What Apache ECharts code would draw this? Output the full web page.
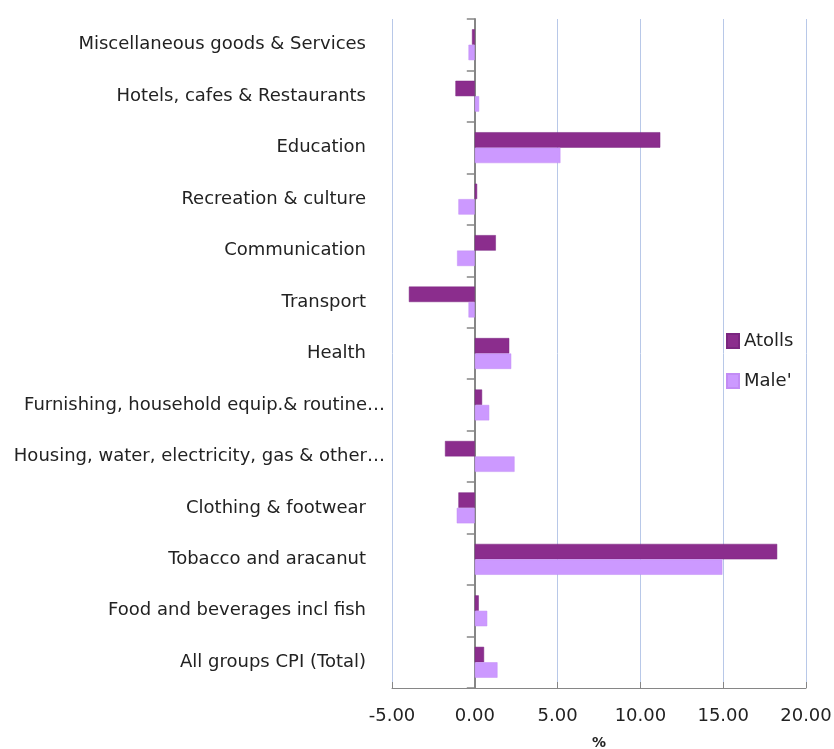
<!DOCTYPE html>
<html><head><meta charset="utf-8">
<script src="https://cdn.jsdelivr.net/npm/echarts@6/dist/echarts.min.js"></script>
<style>html,body{margin:0;padding:0;background:#fff}#c{width:834px;height:749px}</style>
</head><body><div id="c"></div>
<script>
const categories = [
  "Miscellaneous goods & Services",
  "Hotels, cafes & Restaurants",
  "Education",
  "Recreation & culture",
  "Communication",
  "Transport",
  "Health",
  "Furnishing, household equip.& routine…",
  "Housing, water, electricity, gas & other…",
  "Clothing & footwear",
  "Tobacco and aracanut",
  "Food and beverages incl fish",
  "All groups CPI (Total)"
];
const atolls = [-0.17, -1.17, 11.2, 0.14, 1.27, -3.98, 2.08, 0.44, -1.8, -0.99, 18.26, 0.24, 0.56];
const male = [-0.38, 0.26, 5.17, -0.99, -1.07, -0.38, 2.2, 0.87, 2.4, -1.09, 14.95, 0.75, 1.37];
const xTicks = [-5, 0, 5, 10, 15, 20];

const chart = echarts.init(document.getElementById('c'));
const font = "'DejaVu Sans', sans-serif";
const catData = categories.map(c => c.endsWith('…') ? c : {value: c, textStyle: {padding: [0, 19, 0, 0]}});
chart.setOption({
  animation: false,
  textStyle: {fontFamily: font},
  grid: {left: 392, right: 28, top: 19, bottom: 61, containLabel: false, outerBoundsMode: 'none'},
  legend: {
    orient: 'vertical', left: 721, top: 327, itemWidth: 12, itemHeight: 14, itemGap: 22,
    icon: 'rect',
    textStyle: {fontFamily: font, fontSize: 18, color: '#222'},
    data: ['Atolls', "Male'"]
  },
  xAxis: {
    type: 'value', min: xTicks[0], max: xTicks[xTicks.length - 1], interval: 5,
    name: '%', nameLocation: 'middle', nameGap: 48,
    nameTextStyle: {fontFamily: font, fontSize: 14, fontWeight: 'bold', color: '#222'},
    axisLine: {show: true, onZero: false, lineStyle: {color: '#868686'}},
    axisTick: {show: true, inside: true, length: 6, lineStyle: {color: '#868686'}},
    axisLabel: {formatter: v => v.toFixed(2), fontSize: 18, color: '#222', margin: 19},
    splitLine: {show: true, lineStyle: {color: '#b8c8e8', width: 1}}
  },
  yAxis: [{
    type: 'category', data: catData, inverse: true,
    axisLine: {show: false, onZero: false}, axisTick: {show: false},
    axisLabel: {fontSize: 18, color: '#222', margin: 7}
  }, {
    type: 'category', data: categories, inverse: true, position: 'left',
    axisLine: {show: true, onZero: true, lineStyle: {color: '#868686', width: 2}},
    axisTick: {show: true, length: 8, lineStyle: {color: '#868686', width: 1.5}},
    axisLabel: {show: false}
  }],
  series: [
    {name: 'Atolls', type: 'bar', data: atolls, barGap: '0%', barCategoryGap: '40%',
     itemStyle: {color: '#8b2d8d', borderColor: '#7a2680', borderWidth: 0.5}},
    {name: "Male'", type: 'bar', data: male,
     itemStyle: {color: '#cc99ff', borderColor: '#c28cf5', borderWidth: 0.5}}
  ]
});
</script></body></html>
